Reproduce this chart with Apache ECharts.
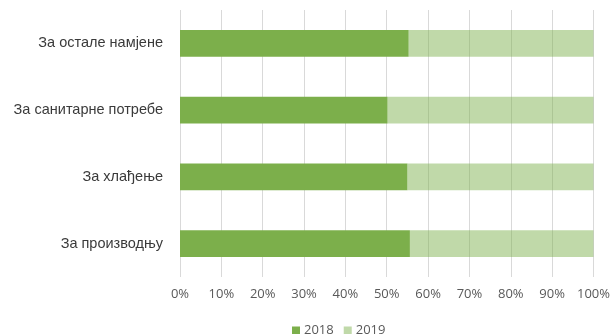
<!DOCTYPE html>
<html>
<head>
<meta charset="utf-8">
<script src="https://cdn.jsdelivr.net/npm/echarts@6/dist/echarts.min.js"></script>
<style>
  html, body { margin: 0; padding: 0; background: #fff; }
  #chart { width: 613px; height: 334px; }
</style>
</head>
<body>
<div id="chart"></div>
<script>
// categories, bottom to top (category axis runs upward)
const categories = ['За производњу', 'За хлађење', 'За санитарне потребе', 'За остале намјене'];
const years = ['2018', '2019'];
// shares in percent
const share2018 = [55.6, 55.0, 50.2, 55.3];
const share2019 = [44.4, 45.0, 49.8, 44.7];
const xTicks = [0, 10, 20, 30, 40, 50, 60, 70, 80, 90, 100];

const font = '"Open Sans", "Noto Sans", sans-serif';
// cyrillic ј / ђ need a face that really has them
const cyrFont = '"Liberation Sans", "DejaVu Sans", sans-serif';

const chart = echarts.init(document.getElementById('chart'));
chart.setOption({
  animation: false,
  textStyle: { fontFamily: font },
  grid: { left: 180, right: 19, top: 10, bottom: 57 },
  legend: {
    data: years,
    top: 319,
    left: 287,
    itemWidth: 8,
    itemHeight: 8,
    itemGap: 10,
    icon: 'rect',
    textStyle: { color: '#595959', fontSize: 13, fontFamily: font, padding: [0, 0, 0, -1] }
  },
  xAxis: {
    type: 'value',
    min: xTicks[0],
    max: xTicks[xTicks.length - 1],
    interval: 10,
    axisLine: { show: false },
    axisTick: { show: false },
    axisLabel: { formatter: '{value}%', color: '#595959', fontSize: 13, margin: 11, fontFamily: font },
    splitLine: { show: true, lineStyle: { color: '#d9d9d9', width: 1 } }
  },
  yAxis: {
    type: 'category',
    data: categories,
    axisLine: { show: false },
    axisTick: { show: false },
    axisLabel: { color: '#3a3a3a', fontSize: 14.5, margin: 17, fontFamily: cyrFont }
  },
  series: [
    {
      name: years[0],
      type: 'bar',
      stack: 'total',
      barWidth: '40%',
      itemStyle: { color: '#7caf4b' },
      data: share2018
    },
    {
      name: years[1],
      type: 'bar',
      stack: 'total',
      barWidth: '40%',
      itemStyle: { color: 'rgba(124,175,75,0.48)' },
      data: share2019
    }
  ]
});
</script>
</body>
</html>
